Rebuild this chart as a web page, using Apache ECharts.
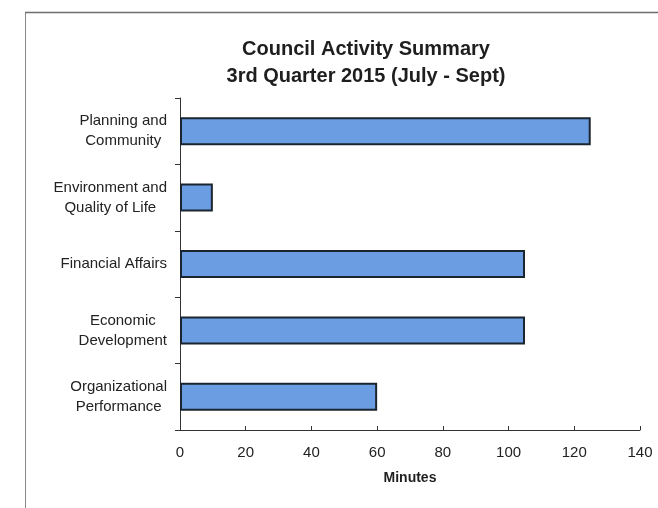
<!DOCTYPE html>
<html>
<head>
<meta charset="utf-8">
<script src="https://cdn.jsdelivr.net/npm/echarts@6/dist/echarts.min.js"></script>
<style>
  html, body { margin: 0; padding: 0; background: #ffffff; }
  #chart { width: 658px; height: 508px; }
</style>
</head>
<body>
<div id="chart"></div>
<script>
// Committee categories (top to bottom) and minutes spent in each
const categories = [
  'Planning and\nCommunity',
  'Environment and\nQuality of Life',
  'Financial Affairs',
  'Economic\nDevelopment',
  'Organizational\nPerformance'
];
const minutes = [125, 10, 105, 105, 60];
const titleLines = ['Council Activity Summary', '3rd Quarter 2015 (July - Sept)'];
const axisTitle = 'Minutes';

const FONT = '"Liberation Sans", Arial, Helvetica, sans-serif';
const chart = echarts.init(document.getElementById('chart'), null, { renderer: 'canvas' });

chart.setOption({
  backgroundColor: '#ffffff',
  animation: false,
  title: {
    text: titleLines.join('\n'),
    left: 361,
    top: 31,
    textAlign: 'center',
    textStyle: {
      fontFamily: FONT,
      fontSize: 20,
      fontWeight: 'bold',
      lineHeight: 27,
      color: '#1e1e1e'
    }
  },
  grid: { left: 180, top: 98, right: 18, bottom: 78, containLabel: false },
  xAxis: {
    type: 'value',
    min: 0,
    max: 140,
    interval: 20,
    name: axisTitle,
    nameLocation: 'middle',
    nameGap: 41,
    nameTextStyle: { fontFamily: FONT, fontSize: 14, fontWeight: 'bold', color: '#1e1e1e' },
    axisLine: { show: true, lineStyle: { color: '#333', width: 1 } },
    axisTick: { show: true, inside: true, length: 4, lineStyle: { color: '#333' } },
    axisLabel: { fontFamily: FONT, fontSize: 15, color: '#222', margin: 15 },
    splitLine: { show: false }
  },
  yAxis: {
    type: 'category',
    data: categories,
    inverse: true,
    axisLine: { show: true, lineStyle: { color: '#333', width: 1 } },
    axisTick: { show: true, length: 5, lineStyle: { color: '#333' } },
    axisLabel: {
      margin: 13,
      align: 'right',
      formatter: v => v.split('\n').map(s => '{c|' + s + '}').join('\n'),
      rich: {
        c: { align: 'center', fontFamily: FONT, fontSize: 15, lineHeight: 20, color: '#222' }
      }
    },
    splitLine: { show: false }
  },
  series: [{
    type: 'bar',
    data: minutes,
    barWidth: 28,
    itemStyle: { color: '#6b9de3', borderColor: '#1b2530', borderWidth: 2 }
  }],
  graphic: [
    { type: 'line', shape: { x1: 25.5, y1: 12, x2: 25.5, y2: 508 }, style: { stroke: '#8a8a8a', lineWidth: 1 } },
    { type: 'line', shape: { x1: 25, y1: 12.5, x2: 658, y2: 12.5 }, style: { stroke: '#6e6e6e', lineWidth: 1.5 } }
  ]
});
</script>
</body>
</html>
